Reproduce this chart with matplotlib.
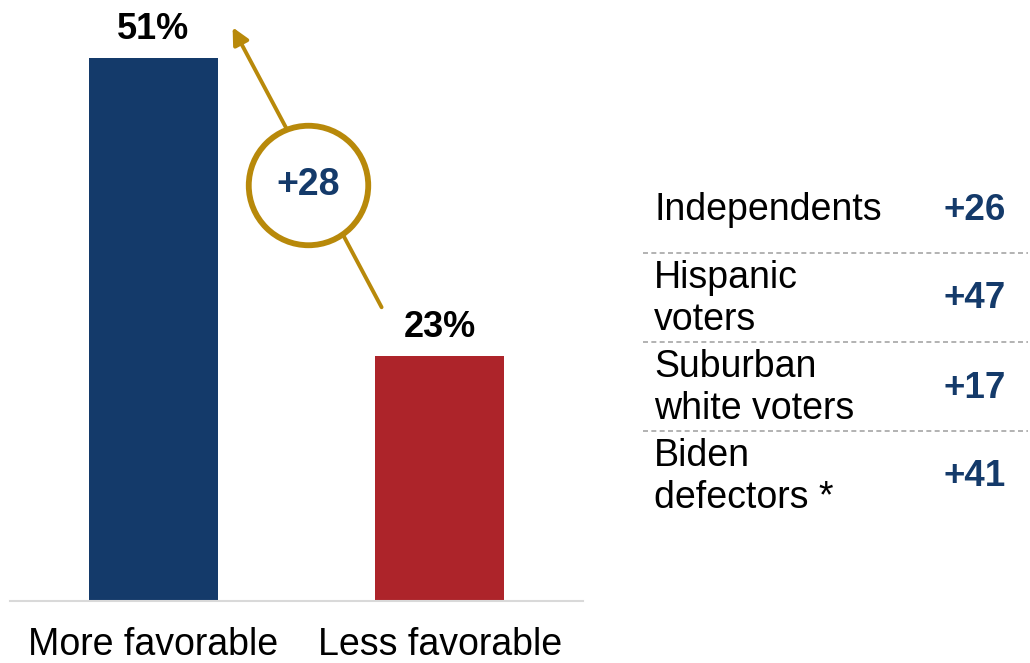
import matplotlib.pyplot as plt

plt.rcParams['font.family'] = ['Liberation Sans', 'DejaVu Sans']

categories = ["More favorable", "Less favorable"]
values = [51, 23]
value_labels = ["51%", "23%"]
gap_label = "+28"

groups = ["Independents", "Hispanic\nvoters", "Suburban\nwhite voters", "Biden\ndefectors *"]
margins = ["+26", "+47", "+17", "+41"]

navy = "#143a6a"
red = "#ad242a"
gold = "#b8890a"

fig = plt.figure(figsize=(10.3, 6.63), dpi=100)

# bar chart on the left
ax = fig.add_axes([10 / 1030, 62 / 663, 573 / 1030, 596 / 663])
x = list(range(len(categories)))
ax.bar(x, values, width=0.45, color=[navy, red], zorder=2)
ax.set_xlim(-0.5, 1.5)
ax.set_ylim(0, 56)
for xi, v, lab in zip(x, values, value_labels):
    ax.annotate(lab, (xi, v), xytext=(0, 21), textcoords="offset points",
                ha="center", va="center", fontsize=26, fontweight="bold")
ax.set_xticks(x)
ax.set_xticklabels(categories, fontsize=27)
ax.tick_params(axis="x", length=0, pad=19)
ax.set_yticks([])
for s in ["top", "left", "right"]:
    ax.spines[s].set_visible(False)
ax.spines["bottom"].set_color("#d9d9d9")
ax.spines["bottom"].set_linewidth(1.5)

# arrow from the smaller bar towards the bigger one, with the gap in a circle
ax.annotate("", xy=(0.277, 53.9), xytext=(0.797, 27.6),
            arrowprops=dict(arrowstyle="-|>,head_length=1.0,head_width=0.5",
                            color=gold, lw=2.8, shrinkA=0, shrinkB=0), zorder=3)
ax.scatter([0.539], [39.06], s=7400, facecolor="white", edgecolor=gold,
           linewidth=4.2, zorder=4, clip_on=False)
ax.text(0.539, 39.06, gap_label, ha="center", va="center", fontsize=27,
        fontweight="bold", color=navy, zorder=5)

# table on the right, in pixel coordinates
tab = fig.add_axes([0, 0, 1, 1])
tab.set_xlim(0, 1030)
tab.set_ylim(663, 0)
tab.axis("off")
for i, (g, m) in enumerate(zip(groups, margins)):
    yc = 210 + 89 * i
    tab.text(654, yc, g, ha="left", va="center", fontsize=27, linespacing=1.18)
    tab.text(1006, yc, m, ha="right", va="center", fontsize=26.5,
             fontweight="bold", color=navy)
    if i < len(groups) - 1:
        tab.plot([643, 1028], [yc + 43, yc + 43], color="#a6a6a6",
                 lw=1.2, ls=(0, (3, 2)))

fig.savefig("out.png", dpi=100)
